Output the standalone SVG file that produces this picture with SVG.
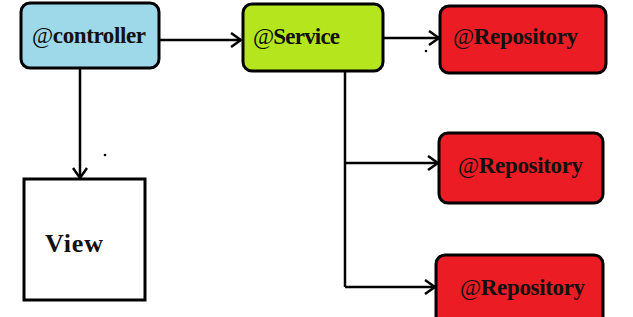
<svg xmlns="http://www.w3.org/2000/svg" width="633" height="317" viewBox="0 0 633 317">
<style>
.box{stroke:#000;stroke-width:3}
.lbl{font-family:"Liberation Serif","Times New Roman",serif;font-weight:bold;font-size:23px;fill:#111}
.at{font-weight:normal}
.conn{fill:none;stroke:#000;stroke-width:2.5}
</style>
<defs>
<marker id="arr" viewBox="0 0 12 16" refX="11" refY="8" markerWidth="12" markerHeight="16" markerUnits="userSpaceOnUse" orient="auto">
<polyline points="1,1 11,8 1,15" fill="none" stroke="#000" stroke-width="2.5"/>
</marker>
</defs>
<rect width="633" height="317" fill="#fff"/>
<g id="connectors">
<line class="conn" x1="159" y1="40" x2="241" y2="40" marker-end="url(#arr)"/>
<line class="conn" x1="383" y1="38" x2="439" y2="38" marker-end="url(#arr)"/>
<line class="conn" x1="80" y1="68" x2="80" y2="178" marker-end="url(#arr)"/>
<polyline class="conn" points="345,71 345,287"/>
<line class="conn" x1="345" y1="163" x2="438" y2="163" marker-end="url(#arr)"/>
<line class="conn" x1="345" y1="287" x2="435" y2="287" marker-end="url(#arr)"/>
<circle cx="426" cy="51" r="1.3" fill="#000"/>
<circle cx="105" cy="155" r="1.3" fill="#000"/>
</g>
<g id="controller">
<rect class="box" x="21" y="3" width="138" height="65" rx="9" fill="#9ed9ea"/>
<text class="lbl" x="32" y="43" textLength="114"><tspan class="at">@</tspan>controller</text>
</g>
<g id="service">
<rect class="box" x="243" y="4" width="140" height="67" rx="9" fill="#b5e61d"/>
<text class="lbl" x="253" y="44" textLength="87"><tspan class="at">@</tspan>Service</text>
</g>
<g id="repository1">
<rect class="box" x="440" y="6" width="166" height="67" rx="9" fill="#ec1c24"/>
<text class="lbl" x="453" y="44" textLength="125"><tspan class="at">@</tspan>Repository</text>
</g>
<g id="repository2">
<rect class="box" x="439" y="133" width="164" height="70" rx="9" fill="#ec1c24"/>
<text class="lbl" x="458" y="173" textLength="125"><tspan class="at">@</tspan>Repository</text>
</g>
<g id="repository3">
<rect class="box" x="436" y="255" width="167" height="75" rx="9" fill="#ec1c24"/>
<text class="lbl" x="460" y="295" textLength="125"><tspan class="at">@</tspan>Repository</text>
</g>
<g id="view">
<rect class="box" x="24" y="179" width="121" height="121" fill="#fff"/>
<text class="lbl" x="45" y="252" style="font-size:26px" textLength="58">View</text>
</g>
</svg>
